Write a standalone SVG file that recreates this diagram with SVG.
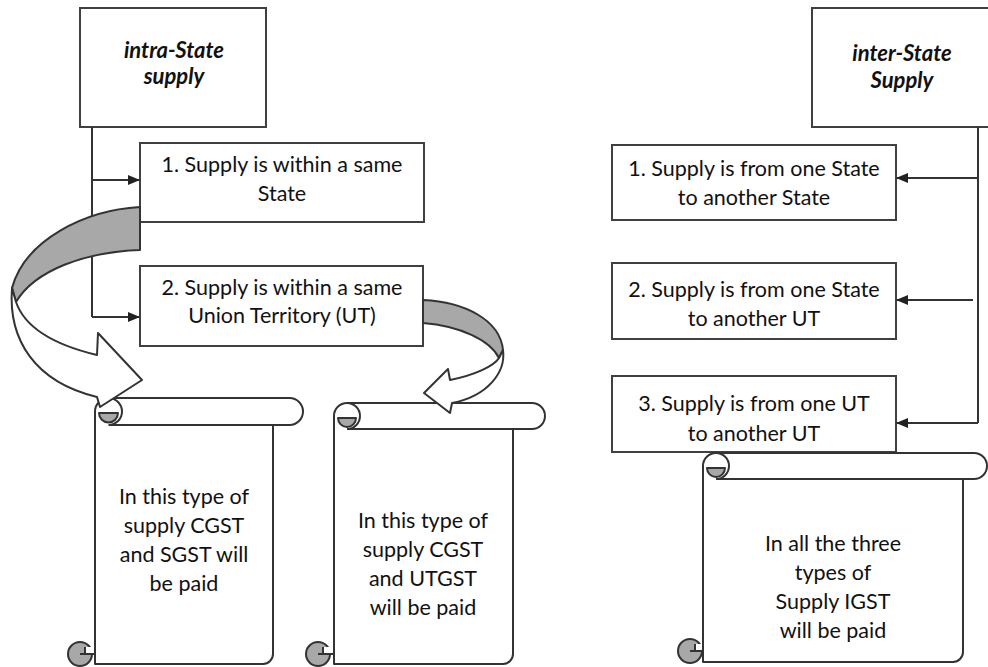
<svg xmlns="http://www.w3.org/2000/svg" width="988" height="667" viewBox="0 0 988 667">
<style>
.box{fill:#fff;stroke:#404040;stroke-width:2}
.ln{fill:none;stroke:#333;stroke-width:2}
.sc{fill:#fff;stroke:#333;stroke-width:2;stroke-linejoin:round}
.gr{fill:#a8a8a8;stroke:#333;stroke-width:2;stroke-linejoin:round}
.wh{fill:#fff;stroke:#333;stroke-width:2;stroke-linejoin:round}
.nt{fill:#fff;stroke:none}
.t{font-family:Lato,"Open Sans","Liberation Sans",sans-serif;font-size:21.5px;fill:#111;text-anchor:middle}
.h{font-family:Lato,"Open Sans","Liberation Sans",sans-serif;font-size:22px;font-weight:bold;font-style:italic;fill:#111;text-anchor:middle}
</style>
<defs>
<marker id="ah" markerWidth="12" markerHeight="10" refX="11" refY="5" orient="auto" markerUnits="userSpaceOnUse">
<path d="M0,0 L12,5 L0,10 Z" fill="#222"/>
</marker>
</defs>
<rect width="988" height="667" fill="#fff"/>

<g id="intra-state">
<rect class="box" x="80" y="8" width="186" height="119"/>
<text class="h" x="174" y="58">intra-State</text>
<text class="h" x="174" y="84">supply</text>
</g>
<g id="intra-1">
<rect class="box" x="140" y="143" width="284" height="79"/>
<text class="t" x="282" y="172">1. Supply is within a same</text>
<text class="t" x="282" y="201">State</text>
</g>
<g id="intra-2">
<rect class="box" x="140" y="266" width="283" height="80"/>
<text class="t" x="282" y="295">2. Supply is within a same</text>
<text class="t" x="282" y="323">Union Territory (UT)</text>
</g>

<g id="inter-state">
<rect class="box" x="812" y="8" width="182" height="119"/>
<text class="h" x="902" y="61">inter-State</text>
<text class="h" x="902" y="88">Supply</text>
</g>
<g id="inter-1">
<rect class="box" x="612" y="145" width="284" height="75"/>
<text class="t" x="754" y="176">1. Supply is from one State</text>
<text class="t" x="754" y="205">to another State</text>
</g>
<g id="inter-2">
<rect class="box" x="612" y="263" width="284" height="76"/>
<text class="t" x="754" y="297">2. Supply is from one State</text>
<text class="t" x="754" y="326">to another UT</text>
</g>
<g id="inter-3">
<rect class="box" x="612" y="376" width="284" height="76"/>
<text class="t" x="754" y="411">3. Supply is from one UT</text>
<text class="t" x="754" y="441">to another UT</text>
</g>

<g id="connectors">
<path class="ln" d="M92,127 V317"/>
<path class="ln" d="M92,180 H139" marker-end="url(#ah)"/>
<path class="ln" d="M92,317 H139" marker-end="url(#ah)"/>
<path class="ln" d="M978,127 V423"/>
<path class="ln" d="M978,178 H897" marker-end="url(#ah)"/>
<path class="ln" d="M973,300 H897" marker-end="url(#ah)"/>
<path class="ln" d="M978,423 H897" marker-end="url(#ah)"/>
</g>

<g id="scroll-cgst-sgst">
<path class="sc" d="M95,664 L95,411.5 A13.5,13.5 0 0 1 108.5,398 L289.5,398 A13.5,13.5 0 0 1 289.5,425 L273,425 L273,654 A10,10 0 0 1 263,664 Z"/>
<path class="ln" d="M108.5,398 A13.5,13.5 0 0 1 108.5,425 M108.5,425 H273"/>
<path class="gr" d="M99,413 A9.5,9.5 0 0 0 118,413 Z"/>
<circle class="gr" cx="80" cy="654" r="12"/>
<rect class="nt" x="85" y="647" width="9" height="7"/>
<path class="ln" d="M85,647 V654 H95 M80,654 H85"/>
<text class="t" x="184" y="504">In this type of</text>
<text class="t" x="184" y="533">supply CGST</text>
<text class="t" x="184" y="562">and SGST will</text>
<text class="t" x="184" y="591">be paid</text>
</g>

<g id="scroll-cgst-utgst">
<path class="sc" d="M334,664 L334,416 A13,13 0 0 1 347,403 L532,403 A13,13 0 0 1 532,429 L513,429 L513,654 A10,10 0 0 1 503,664 Z"/>
<path class="ln" d="M347,403 A13,13 0 0 1 347,429 M347,429 H513"/>
<path class="gr" d="M338,418 A9,9 0 0 0 356,418 Z"/>
<circle class="gr" cx="318" cy="654" r="12"/>
<rect class="nt" x="323" y="647" width="10" height="7"/>
<path class="ln" d="M323,647 V654 H334 M318,654 H323"/>
<text class="t" x="423" y="528">In this type of</text>
<text class="t" x="423" y="557">supply CGST</text>
<text class="t" x="423" y="586">and UTGST</text>
<text class="t" x="423" y="615">will be paid</text>
</g>

<g id="scroll-igst">
<path class="sc" d="M703,662 L703,466 A13,13 0 0 1 716,453 L974,453 A13,13 0 0 1 974,479 L963,479 L963,652 A10,10 0 0 1 953,662 Z"/>
<path class="ln" d="M716,453 A13,13 0 0 1 716,479 M716,479 H963"/>
<path class="gr" d="M707,468 A9,9 0 0 0 725,468 Z"/>
<circle class="gr" cx="690" cy="651" r="12"/>
<rect class="nt" x="695" y="644" width="7" height="7"/>
<path class="ln" d="M695,644 V651 H703 M690,651 H695"/>
<text class="t" x="833" y="551">In all the three</text>
<text class="t" x="833" y="580">types of</text>
<text class="t" x="833" y="609">Supply IGST</text>
<text class="t" x="833" y="638">will be paid</text>
</g>

<g id="curved-arrow-1">
<path class="gr" d="M140,207 C85,210 25,240 12,288 L16,302 C35,270 85,252 140,250 Z"/>
<path class="wh" d="M12,288 C8,340 35,382 97,397 L100,407 L142,380 L98,333 L97,355 C55,345 25,328 16,302 Z"/>
</g>
<g id="curved-arrow-2">
<path class="gr" d="M423,300 C465,302 500,320 503,350 L499,358 C490,340 460,326 423,323 Z"/>
<path class="wh" d="M503,350 C506,372 488,396 452,403 L450,413 L424,393 L448,369 L450,380 C475,375 494,366 499,358 Z"/>
</g>
</svg>
